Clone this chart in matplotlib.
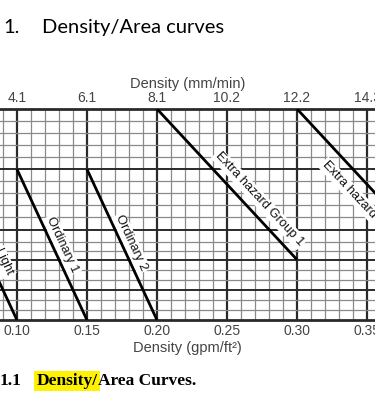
import matplotlib

matplotlib.use("Agg")
import matplotlib.pyplot as plt
import numpy as np

# density (gpm/ft2) vs area of operation (ft2)
curve_names = ["Light", "Ordinary 1", "Ordinary 2", "Extra hazard Group 1", "Extra hazard Group 2"]
curve_density = [(0.10, 0.07), (0.15, 0.10), (0.20, 0.15), (0.30, 0.20), (0.40, 0.30)]
curve_area = [(1500, 3000), (1500, 4000), (1500, 4000), (2500, 5000), (2500, 5000)]

# label centres (density, area)
label_x = [0.0905, 0.1322, 0.1815, 0.2729, 0.3493]
label_y = [2460, 2745, 2775, 3505, 3360]
label_rot = [-65, -65, -65, -47, -47]

bottom_ticks = [0.10, 0.15, 0.20, 0.25, 0.30, 0.35]
bottom_labels = ["0.10", "0.15", "0.20", "0.25", "0.30", "0.35"]
top_labels = ["4.1", "6.1", "8.1", "10.2", "12.2", "14.3"]

h_minor = [4800, 4600, 4400, 4200, 3800, 3600, 3400, 3200, 2800, 2650, 2330, 2160, 1830, 1670]
h_major = [4000, 3000, 2500, 2000]

fig = plt.figure(figsize=(3.75, 3.99), dpi=100)
ax = fig.add_axes([0, 0.198, 1, 0.529])
ax.set_xlim(0.0879, 0.3557)
ax.set_ylim(1500, 5000)

minor_v = np.round(np.arange(0.09, 0.36, 0.01), 2)
ax.vlines([v for v in minor_v if v not in bottom_ticks], 1500, 5000, color="#8a8a8a", lw=0.9, zorder=1)
ax.vlines(bottom_ticks, 1500, 5000, color="#2a2a2a", lw=1.6, zorder=1)
ax.hlines(h_minor, 0.0, 0.5, color="#8a8a8a", lw=0.9, zorder=1)
ax.hlines(h_major, 0.0, 0.5, color="#2a2a2a", lw=1.4, zorder=1)

for xs, ys in zip(curve_density, curve_area):
    ax.plot(xs, ys, color="black", lw=2, zorder=4, solid_capstyle="butt")

for name, x, y, r in zip(curve_names, label_x, label_y, label_rot):
    ax.text(x, y, name, rotation=r, rotation_mode="anchor", ha="center", va="center",
            fontsize=9.3, family="Liberation Sans", color="#111", zorder=3,
            bbox=dict(facecolor="white", edgecolor="none", pad=1))

for side in ["left", "right"]:
    ax.spines[side].set_visible(False)
for side in ["top", "bottom"]:
    ax.spines[side].set_linewidth(2)
    ax.spines[side].set_color("#2a2a2a")

ax.set_yticks([])
ax.set_xticks(bottom_ticks, bottom_labels)
ax.tick_params(axis="x", length=0, pad=3, labelsize=10, labelcolor="#444")
for t in ax.get_xticklabels():
    t.set_family("Liberation Sans")
ax.set_xlabel("Density (gpm/ft²)", fontsize=10.5, color="#444", family="Liberation Sans", labelpad=2)

top = ax.secondary_xaxis("top")
top.set_xticks(bottom_ticks, top_labels)
top.tick_params(axis="x", length=0, pad=3, labelsize=10, labelcolor="#444")
for t in top.get_xticklabels():
    t.set_family("Liberation Sans")
top.spines["top"].set_visible(False)
top.set_xlabel("Density (mm/min)", fontsize=10.5, color="#444", family="Liberation Sans", labelpad=2)

fig.text(0.008, 0.932, "1.", fontsize=14.5, family="Lato", va="center")
fig.text(0.112, 0.932, "Density/Area curves", fontsize=14.5, family="Lato", va="center")

fig.text(0.0, 0.045, "1.1", fontsize=12.5, family="Liberation Serif", weight="bold", va="center")
hl = fig.text(0.097, 0.045, "Density/", fontsize=12.5, family="Liberation Serif", weight="bold",
              va="center", bbox=dict(facecolor="#fff200", edgecolor="none", pad=1.5))
fig.canvas.draw()
right = hl.get_window_extent().x1 / fig.bbox.width
fig.text(right, 0.045, "Area Curves.", fontsize=12.5, family="Liberation Serif", weight="bold", va="center")

fig.savefig("out.png", dpi=100)
